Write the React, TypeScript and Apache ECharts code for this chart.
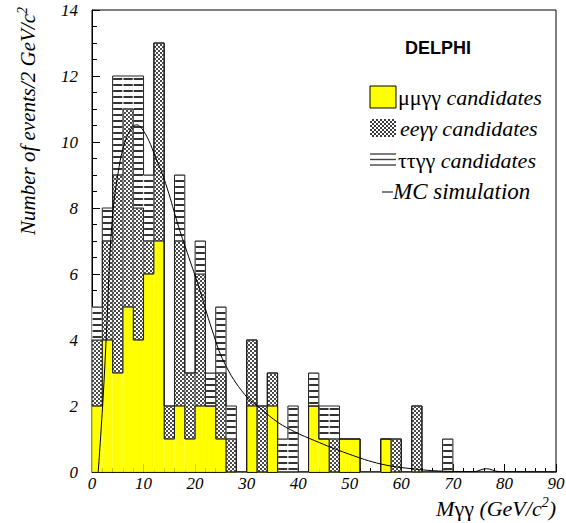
import React, { useEffect, useRef } from 'react';
import * as echarts from 'echarts';

// Histogram bins (lower edge, GeV/c^2), 2 GeV wide
const binStarts = [
  0, 2, 4, 6, 8, 10, 12, 14, 16, 18,
  20, 22, 24, 26, 28, 30, 32, 34, 36, 38,
  40, 42, 44, 46, 48, 50, 52, 54, 56, 58,
  60, 62, 64, 66, 68, 70, 72, 74, 76, 78,
  80, 82, 84, 86, 88,
];
const binUpperEdge = 90;

// μμγγ candidates
const muCounts = [
  2, 4, 3, 5, 4, 6, 7, 1, 2, 1,
  2, 2, 1, 0, 0, 2, 0, 2, 0, 0,
  0, 2, 1, 0, 1, 1, 0, 0, 1, 0,
  0, 0, 0, 0, 0, 0, 0, 0, 0, 0,
  0, 0, 0, 0, 0,
];
// eeγγ candidates
const eeCounts = [
  2, 3, 6, 6, 4, 1, 6, 1, 5, 2,
  4, 0, 2, 1, 0, 2, 2, 1, 0, 0,
  0, 0, 0, 1, 0, 0, 0, 0, 0, 1,
  0, 2, 0, 0, 0, 0, 0, 0, 0, 0,
  0, 0, 0, 0, 0,
];
// ττγγ candidates
const tauCounts = [
  1, 1, 3, 1, 4, 2, 0, 0, 2, 0,
  1, 1, 2, 1, 0, 0, 0, 0, 1, 2,
  0, 1, 1, 1, 0, 0, 0, 0, 0, 0,
  0, 0, 0, 0, 1, 0, 0, 0, 0, 0,
  0, 0, 0, 0, 0,
];

// MC simulation curve
const mcMass = [
  1.2, 2.1, 2.8, 3.85, 5.1, 6.4, 7.8, 8.7, 9.7, 11.0,
  12.3, 13.6, 14.9, 16.8, 18.75, 20.7, 23.3, 25.7, 29.6, 32.9,
  36.1, 39.3, 43.2, 49.7, 56.1, 62.6, 69.0, 74.0, 76.5, 79.0, 90.0,
];
const mcEvents = [
  0, 2.1, 4.2, 7.5, 9.1, 10.0, 10.45, 10.52, 10.4, 10.05,
  9.55, 9.05, 8.44, 7.43, 6.52, 5.62, 4.3, 3.3, 2.35, 1.9,
  1.5, 1.22, 0.95, 0.55, 0.24, 0.09, 0.02, 0.01, 0.1, 0.01, 0,
];

const xTickMin = 0;
const xTickMax = 90;
const xTickStep = 10;
const yTickMin = 0;
const yTickMax = 14;
const yTickStep = 2;

const SERIF = 'Liberation Serif';
const SANS = 'Liberation Sans';

function cumulative(lists: number[][]): number[] {
  return binStarts.map((_, i) => lists.reduce((s, l) => s + l[i], 0));
}

function contourData(vals: number[]) {
  const d: number[][] = binStarts.map((x, i) => [x, vals[i]]);
  d.push([binUpperEdge, vals[vals.length - 1]]);
  return d;
}

function buildHatchLegend() {
  const children: any[] = [
    { type: 'rect', shape: { x: 0, y: 0, width: 26, height: 18 }, style: { fill: '#3a3a3a' } },
  ];
  for (let r = 0; r < 9; r++) {
    for (let c = 0; c < 13; c++) {
      if ((r + c) % 2 === 0) {
        children.push({
          type: 'rect',
          shape: { x: c * 2, y: r * 2, width: 2, height: 2 },
          style: { fill: '#ffffff' },
        });
      }
    }
  }
  return { type: 'group', x: 370, y: 119, children };
}

export default function App() {
  const ref = useRef<HTMLDivElement>(null);

  useEffect(() => {
    if (!ref.current) return;
    const chart = echarts.init(ref.current, undefined, { renderer: 'svg' });

    const cumMu = cumulative([muCounts]);
    const cumMuEe = cumulative([muCounts, eeCounts]);
    const cumAll = cumulative([muCounts, eeCounts, tauCounts]);

    const legendRich = {
      u: { fontFamily: SERIF, fontSize: 22, color: '#000' },
      i: { fontFamily: SERIF, fontSize: 22, fontStyle: 'italic', color: '#000' },
      m: { fontFamily: SERIF, fontSize: 23, fontStyle: 'italic', color: '#000' },
    };

    const contourSeries = (name: string, vals: number[]) => ({
      name,
      type: 'line',
      xAxisIndex: 1,
      yAxisIndex: 0,
      step: 'end',
      data: contourData(vals),
      symbol: 'none',
      showSymbol: false,
      lineStyle: { color: '#222', width: 1 },
      z: 4,
      silent: true,
    });

    const option: any = {
      animation: false,
      backgroundColor: '#ffffff',
      grid: {
        left: 92,
        right: 10,
        top: 10,
        bottom: 51,
        show: true,
        borderColor: '#000',
        borderWidth: 1,
        backgroundColor: 'transparent',
        containLabel: false,
        outerBoundsMode: 'none',
      },
      xAxis: [
        {
          type: 'category',
          data: binStarts.map(String),
          show: false,
          boundaryGap: true,
        },
        {
          type: 'value',
          min: xTickMin,
          max: xTickMax,
          interval: xTickStep,
          position: 'bottom',
          axisLine: { show: true, lineStyle: { color: '#000', width: 1 } },
          axisTick: { show: true, inside: true, length: 8, lineStyle: { color: '#000', width: 1 } },
          minorTick: { show: true, splitNumber: 5, length: 4, lineStyle: { color: '#000', width: 1 } },
          splitLine: { show: false },
          minorSplitLine: { show: false },
          axisLabel: {
            fontFamily: SERIF,
            fontStyle: 'italic',
            fontSize: 17,
            color: '#000',
            margin: 3,
          },
        },
      ],
      yAxis: [
        {
          type: 'value',
          min: yTickMin,
          max: yTickMax,
          interval: yTickStep,
          axisLine: { show: true, lineStyle: { color: '#000', width: 1 } },
          axisTick: { show: true, inside: true, length: 8, lineStyle: { color: '#000', width: 1 } },
          minorTick: { show: true, splitNumber: 4, length: 5, lineStyle: { color: '#000', width: 1 } },
          splitLine: { show: false },
          minorSplitLine: { show: false },
          axisLabel: {
            fontFamily: SERIF,
            fontStyle: 'italic',
            fontSize: 17,
            color: '#000',
            margin: 14,
          },
        },
      ],
      series: [
        {
          name: 'μμγγ candidates',
          type: 'bar',
          stack: 'total',
          xAxisIndex: 0,
          yAxisIndex: 0,
          barCategoryGap: '0%',
          data: muCounts,
          itemStyle: { color: '#ffff00', borderColor: '#ffff00', borderWidth: 0.5 },
          silent: true,
        },
        {
          name: 'eeγγ candidates',
          type: 'bar',
          stack: 'total',
          xAxisIndex: 0,
          yAxisIndex: 0,
          barCategoryGap: '0%',
          data: eeCounts,
          itemStyle: {
            color: '#4a4a4a',
            borderColor: '#4a4a4a',
            borderWidth: 0.5,
            decal: {
              symbol: 'rect',
              symbolSize: 1,
              color: '#ffffff',
              dashArrayX: [[2, 2], [0, 2, 2, 0]],
              dashArrayY: [2, 0],
              rotation: 0,
            },
          },
          silent: true,
        },
        {
          name: 'ττγγ candidates',
          type: 'bar',
          stack: 'total',
          xAxisIndex: 0,
          yAxisIndex: 0,
          barCategoryGap: '0%',
          data: tauCounts,
          itemStyle: {
            color: '#ffffff',
            borderColor: '#ffffff',
            borderWidth: 0.5,
            decal: {
              symbol: 'rect',
              symbolSize: 1,
              color: '#333333',
              dashArrayX: [1, 0],
              dashArrayY: [2, 4],
              rotation: 0,
            },
          },
          silent: true,
        },
        contourSeries('mu contour', cumMu),
        contourSeries('mu+ee contour', cumMuEe),
        contourSeries('total contour', cumAll),
        {
          name: 'MC simulation',
          type: 'line',
          xAxisIndex: 1,
          yAxisIndex: 0,
          smooth: 0.4,
          data: mcMass.map((m, i) => [m, mcEvents[i]]),
          symbol: 'none',
          showSymbol: false,
          lineStyle: { color: '#000', width: 1 },
          z: 5,
          silent: true,
        },
      ],
      graphic: [
        {
          type: 'text',
          x: 438,
          y: 48,
          style: {
            text: 'DELPHI',
            fontFamily: SANS,
            fontWeight: 'bold',
            fontSize: 18,
            fill: '#000',
            align: 'center',
            verticalAlign: 'middle',
          },
        },
        {
          type: 'rect',
          shape: { x: 370, y: 86, width: 26, height: 22 },
          style: { fill: '#ffff00', stroke: '#000', lineWidth: 1 },
        },
        {
          type: 'text',
          x: 398,
          y: 97,
          style: {
            text: '{u|μμγγ} {i|candidates}',
            rich: legendRich,
            fontFamily: SERIF,
            fontSize: 22,
            fill: '#000',
            align: 'left',
            verticalAlign: 'middle',
          },
        },
        buildHatchLegend(),
        {
          type: 'text',
          x: 400,
          y: 128,
          style: {
            text: '{i|eeγγ candidates}',
            rich: legendRich,
            fontFamily: SERIF,
            fontSize: 22,
            fill: '#000',
            align: 'left',
            verticalAlign: 'middle',
          },
        },
        { type: 'line', shape: { x1: 370, y1: 154, x2: 396, y2: 154 }, style: { stroke: '#444', lineWidth: 1.4 } },
        { type: 'line', shape: { x1: 370, y1: 159.5, x2: 396, y2: 159.5 }, style: { stroke: '#444', lineWidth: 1.4 } },
        { type: 'line', shape: { x1: 370, y1: 165, x2: 396, y2: 165 }, style: { stroke: '#444', lineWidth: 1.4 } },
        {
          type: 'text',
          x: 398,
          y: 160,
          style: {
            text: '{u|ττγγ} {i|candidates}',
            rich: legendRich,
            fontFamily: SERIF,
            fontSize: 22,
            fill: '#000',
            align: 'left',
            verticalAlign: 'middle',
          },
        },
        { type: 'line', shape: { x1: 382, y1: 192, x2: 393, y2: 192 }, style: { stroke: '#000', lineWidth: 1 } },
        {
          type: 'text',
          x: 393,
          y: 191,
          style: {
            text: '{m|MC simulation}',
            rich: legendRich,
            fontFamily: SERIF,
            fontSize: 23,
            fill: '#000',
            align: 'left',
            verticalAlign: 'middle',
          },
        },
        {
          type: 'text',
          x: 28,
          y: 121,
          rotation: Math.PI / 2,
          style: {
            text: '{n|Number of events/2 GeV/c}{s|2}',
            rich: {
              n: { fontFamily: SERIF, fontStyle: 'italic', fontSize: 21, lineHeight: 25, color: '#000' },
              s: { fontFamily: SERIF, fontStyle: 'italic', fontSize: 14, lineHeight: 14, verticalAlign: 'top', color: '#000' },
            },
            fill: '#000',
            align: 'center',
            verticalAlign: 'middle',
          },
        },
        {
          type: 'text',
          x: 556,
          y: 508,
          style: {
            text: '{i|M}{u|γγ} {i|(GeV/c}{s|2}{i|)}',
            rich: {
              i: { fontFamily: SERIF, fontStyle: 'italic', fontSize: 22, lineHeight: 26, color: '#000' },
              u: { fontFamily: SERIF, fontSize: 22, lineHeight: 26, color: '#000' },
              s: { fontFamily: SERIF, fontStyle: 'italic', fontSize: 14, lineHeight: 14, verticalAlign: 'top', color: '#000' },
            },
            fontFamily: SERIF,
            fontSize: 22,
            fill: '#000',
            align: 'right',
            verticalAlign: 'middle',
          },
        },
      ],
    };

    chart.setOption(option);
    return () => chart.dispose();
  }, []);

  return (
    <div
      ref={ref}
      style={{ position: 'absolute', left: 0, top: 0, width: 566, height: 523 }}
    />
  );
}
